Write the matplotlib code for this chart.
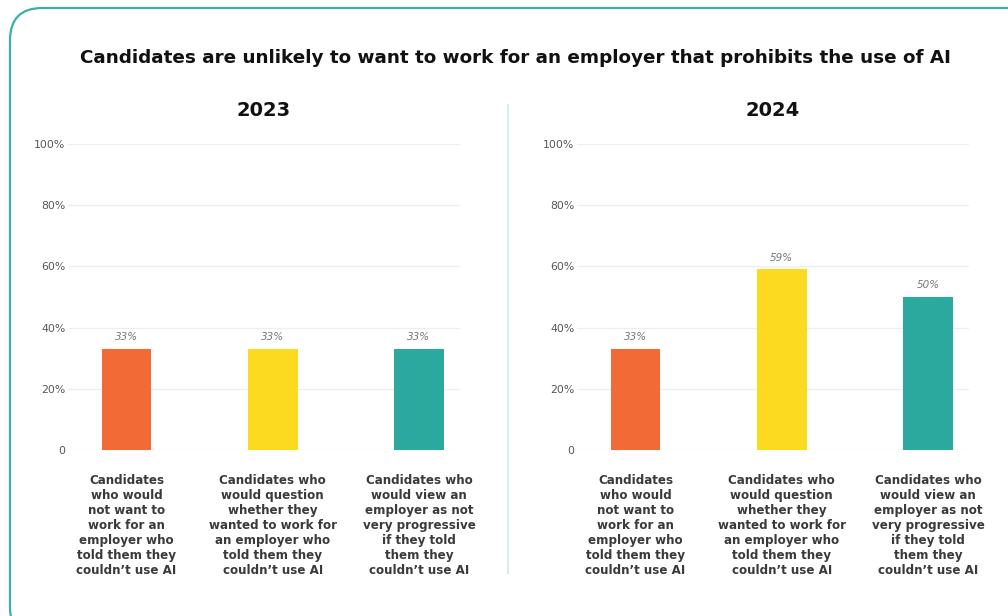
import matplotlib.pyplot as plt
from matplotlib.patches import FancyBboxPatch
from matplotlib.lines import Line2D

title = "Candidates are unlikely to want to work for an employer that prohibits the use of AI"
years = ["2023", "2024"]
categories = [
    "Candidates\nwho would\nnot want to\nwork for an\nemployer who\ntold them they\ncouldn\u2019t use AI",
    "Candidates who\nwould question\nwhether they\nwanted to work for\nan employer who\ntold them they\ncouldn\u2019t use AI",
    "Candidates who\nwould view an\nemployer as not\nvery progressive\nif they told\nthem they\ncouldn\u2019t use AI",
]
values_2023 = [33, 33, 33]
values_2024 = [33, 59, 50]
bar_colors = ["#F26A36", "#FBDA1F", "#2BA99F"]
yticks = [0, 20, 40, 60, 80, 100]
ytick_labels = ["0", "20%", "40%", "60%", "80%", "100%"]

plt.rcParams['font.family'] = ['DejaVu Sans']

W, H = 1008, 616
fig = plt.figure(figsize=(W / 100, H / 100), dpi=100)

# rounded teal frame, running off the right and bottom edges
frame = FancyBboxPatch((10 / W, 1 - 640 / H), 1030 / W, 632 / H,
                       boxstyle="round,pad=0,rounding_size=0.032",
                       transform=fig.transFigure, fill=False,
                       edgecolor="#3AB0A6", linewidth=1.6,
                       mutation_aspect=W / H)
fig.patches.append(frame)

fig.text(515 / W, 1 - 58 / H, title, ha="center", va="center",
         fontsize=13.25, fontweight="bold", color="#111111")

# divider
fig.add_artist(Line2D([508 / W, 508 / W], [1 - 105 / H, 1 - 573 / H],
                      transform=fig.transFigure, color="#D3EEEB", lw=1.5))

ax_bottom = 1 - 450 / H
ax_height = (450 - 144) / H
lefts = [68 / W, 577 / W]
width = 392 / W
x = [0, 1, 2]

for left, year, vals in zip(lefts, years, [values_2023, values_2024]):
    ax = fig.add_axes([left, ax_bottom, width, ax_height])
    ax.bar(x, vals, width=0.34, color=bar_colors, zorder=3)
    for xi, v in zip(x, vals):
        ax.text(xi, v + 2.2, f"{v}%", ha="center", va="bottom",
                fontsize=7.5, style="italic", color="#777777")
    ax.set_xlim(-0.40, 2.28)
    ax.set_ylim(0, 100)
    ax.set_yticks(yticks)
    ax.set_yticklabels(ytick_labels)
    ax.set_xticks(x)
    ax.set_xticklabels(categories, fontsize=8.6, fontweight="bold",
                       color="#3a3a3a", linespacing=1.2)
    ax.tick_params(axis="both", length=0)
    ax.tick_params(axis="x", pad=17)
    ax.tick_params(axis="y", labelsize=7.8, labelcolor="#555555", pad=2)
    ax.grid(axis="y", color="#EEEEEE", linewidth=0.9, zorder=0)
    for s in ax.spines.values():
        s.set_visible(False)
    ax.text(0.5, (450 - 110) / (450 - 144), year, transform=ax.transAxes,
            ha="center", va="center", fontsize=14, fontweight="bold",
            color="#111111")

fig.savefig("out.png", dpi=100)
